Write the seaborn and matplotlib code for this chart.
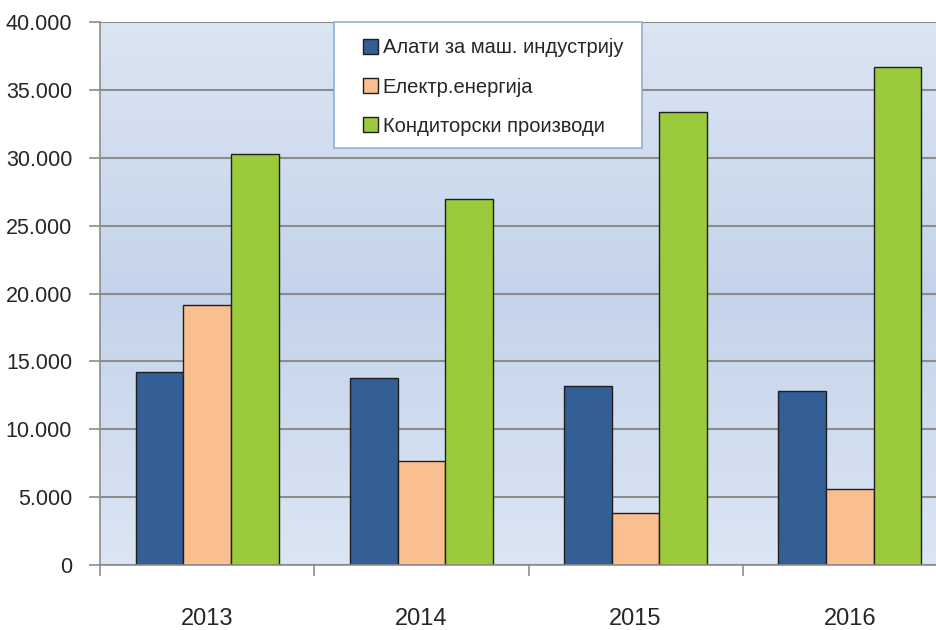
import numpy as np
import pandas as pd
import matplotlib
matplotlib.use("Agg")
import matplotlib.pyplot as plt
from matplotlib.patches import Rectangle
from matplotlib.ticker import FuncFormatter, FixedLocator
import seaborn as sns

# data
years = ["2013", "2014", "2015", "2016"]
series = ["Алати за маш. индустрију", "Електр.енергија", "Кондиторски производи"]
alati = [14200, 13750, 13200, 12830]
struja = [19150, 7680, 3830, 5610]
kondit = [30280, 26940, 33350, 36690]
colors = ["#335f96", "#f9bf8f", "#9bca3c"]

df = pd.DataFrame({
    "year": years * 3,
    "series": [series[0]] * 4 + [series[1]] * 4 + [series[2]] * 4,
    "value": alati + struja + kondit,
})

sns.set_style("white")
plt.rcParams["font.family"] = ["Liberation Sans", "DejaVu Sans"]
plt.rcParams["font.stretch"] = "condensed"

fig = plt.figure(figsize=(9.36, 6.3), dpi=100)
ax = fig.add_axes([100 / 936, 65 / 630, 857 / 936, 543 / 630])

# gradient background of the plot area
grad = np.array([[0.86, 0.90, 0.95], [0.77, 0.83, 0.92], [0.86, 0.90, 0.955]])
t = np.linspace(0, 1, 200)
img = np.stack([np.interp(t, [0, 0.5, 1], grad[:, c]) for c in range(3)], axis=1)
ax.imshow(img[:, None, :], extent=(-0.5, 3.5, 0, 40000), aspect="auto", zorder=0)

sns.barplot(data=df, x="year", y="value", hue="series", palette=colors,
            saturation=1, width=0.667, gap=0, edgecolor="#1e1e1e", linewidth=1,
            legend=True, ax=ax, zorder=2)

ax.set_xlim(-0.5, 3.5)
ax.set_ylim(0, 40000)
ax.set_yticks(np.arange(0, 40001, 5000))
ax.yaxis.set_major_formatter(FuncFormatter(lambda v, p: f"{int(v):,}".replace(",", ".")))
ax.grid(axis="y", color="#8c8c8c", linewidth=1.5)
ax.set_axisbelow(True)
ax.set_xlabel("")
ax.set_ylabel("")

for s in ["top", "right"]:
    ax.spines[s].set_visible(False)
for s in ["left", "bottom"]:
    ax.spines[s].set_color("#8c8c8c")
    ax.spines[s].set_linewidth(1.2)

ax.tick_params(axis="y", left=True, length=8, color="#8c8c8c", width=1.2,
               pad=12, labelsize=15.5, labelcolor="#262626")
ax.tick_params(axis="x", which="major", length=0, pad=31, labelsize=17,
               labelcolor="#262626")
ax.xaxis.set_minor_locator(FixedLocator([-0.5, 0.5, 1.5, 2.5, 3.5]))
ax.tick_params(axis="x", which="minor", bottom=True, length=8, color="#8c8c8c", width=1.2)

# legend box
ax.add_patch(Rectangle((334 / 936, 1 - 148 / 630), 308 / 936, 126 / 630,
                       transform=fig.transFigure, facecolor="white", clip_on=False,
                       edgecolor="#8fb0d8", linewidth=1.2, zorder=5))
handles, labels = ax.get_legend_handles_labels()
leg = ax.legend(handles, labels, loc="center", bbox_to_anchor=(493 / 936, 1 - 87 / 630),
                bbox_transform=fig.transFigure, frameon=False, fontsize=14.5,
                handlelength=0.75, handleheight=0.75, handletextpad=0.25,
                labelspacing=1.0, borderpad=0)
leg.set_zorder(6)
for h in leg.legend_handles:
    h.set_edgecolor("#1e1e1e")
    h.set_linewidth(1)

fig.savefig("out.png", dpi=100)
